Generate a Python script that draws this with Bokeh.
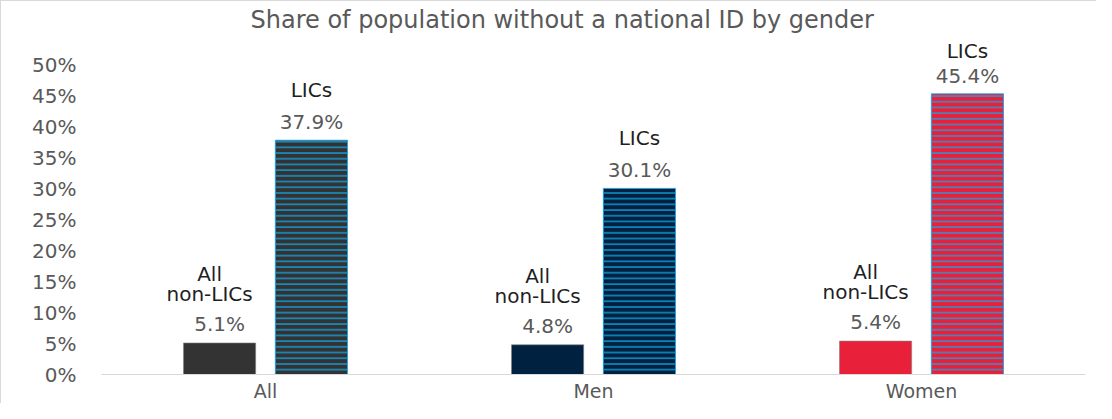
from bokeh.plotting import figure
from bokeh.models import (ColumnDataSource, FactorRange, Range1d, FixedTicker,
                          PrintfTickFormatter)
from bokeh.transform import dodge
from bokeh.core.properties import value
from bokeh.embed import file_html
from bokeh.resources import INLINE

# ---- data ----
categories = ["All", "Men", "Women"]
non_lic = [5.1, 4.8, 5.4]
lic = [37.9, 30.1, 45.4]
y_ticks = [0, 5, 10, 15, 20, 25, 30, 35, 40, 45, 50]
title_text = "Share of population without a national ID by gender"
lic_name = "LICs"
non_lic_name = "All\nnon-LICs"

# ---- styles ----
non_lic_colors = ["#333333", "#00213f", "#e8203a"]
lic_colors = ["#333333", "#00213f", "#e8203a"]
stripe_color = "#14a6e6"
lic_label_offsets = [-50, -50, -43]
FONT = "DejaVu Sans"

src = ColumnDataSource(dict(
    cat=categories,
    non_lic=non_lic,
    lic=lic,
    non_lic_color=non_lic_colors,
    lic_color=lic_colors,
    non_lic_lbl=[f"{v:.1f}%" for v in non_lic],
    lic_lbl=[f"{v:.1f}%" for v in lic],
    lic_name=[lic_name] * len(categories),
    non_lic_name=[non_lic_name] * len(categories),
    lic_off=lic_label_offsets,
))

p = figure(x_range=FactorRange(factors=categories, range_padding=0),
           y_range=Range1d(0, 55.16),
           width=1096, height=403, output_backend="svg",
           toolbar_location=None, title=title_text,
           min_border_left=100, min_border_right=12,
           min_border_bottom=29, min_border_top=32,
           border_fill_color="white")

p.title.text_font = FONT
p.title.text_font_size = "24px"
p.title.text_font_style = "normal"
p.title.text_color = "#595959"
p.title.align = "left"
p.title.offset = 149
p.title.standoff = 0

p.outline_line_color = None
p.xgrid.grid_line_color = None
p.ygrid.grid_line_color = None
p.styles = {"border-top": "1px solid #d9d9d9", "border-left": "1px solid #d9d9d9"}

p.vbar(x=dodge("cat", -0.14, range=p.x_range), top="non_lic", width=0.22,
       source=src, fill_color="non_lic_color", line_color="#7f7f7f",
       line_width=0.6)
p.vbar(x=dodge("cat", 0.14, range=p.x_range), top="lic", width=0.22,
       source=src, fill_color="lic_color", line_color=stripe_color,
       line_width=0.8, hatch_pattern="horizontal_line", hatch_scale=5.7,
       hatch_weight=1.3, hatch_color=stripe_color)

# value labels
p.text(x=dodge("cat", -0.14, range=p.x_range), y="non_lic", text="non_lic_lbl",
       source=src, text_align="center", text_baseline="middle", y_offset=-19,
       text_font=value(FONT), text_font_size="20px", text_color="#595959")
p.text(x=dodge("cat", 0.14, range=p.x_range), y="lic", text="lic_lbl",
       source=src, text_align="center", text_baseline="middle", y_offset=-18,
       text_font=value(FONT), text_font_size="20px", text_color="#595959")
# series names
p.text(x=dodge("cat", 0.14, range=p.x_range), y="lic", text="lic_name",
       source=src, text_align="center", text_baseline="middle", y_offset="lic_off",
       text_font=value(FONT), text_font_size="20px", text_color="#1f1f1f")
p.text(x=dodge("cat", -0.14, range=p.x_range), y="non_lic", text="non_lic_name",
       source=src, text_align="center", text_baseline="middle", y_offset=-59,
       x_offset=-10, text_line_height=0.85,
       text_font=value(FONT), text_font_size="20px", text_color="#1f1f1f")

# axes
xa = p.xaxis[0]
xa.axis_line_color = "#d9d9d9"
xa.axis_line_width = 1.2
xa.major_tick_line_color = None
xa.minor_tick_line_color = None
xa.major_tick_out = 0
xa.major_tick_in = 0
xa.minor_tick_out = 0
xa.major_label_text_font = FONT
xa.major_label_text_font_size = "19px"
xa.major_label_text_color = "#595959"
xa.major_label_standoff = 5

ya = p.yaxis[0]
ya.ticker = FixedTicker(ticks=y_ticks)
ya.formatter = PrintfTickFormatter(format="%d%%")
ya.axis_line_color = None
ya.major_tick_line_color = None
ya.minor_tick_line_color = None
ya.major_tick_out = 0
ya.major_tick_in = 0
ya.minor_tick_out = 0
ya.major_label_text_font = FONT
ya.major_label_text_font_size = "20px"
ya.major_label_text_color = "#595959"
ya.major_label_standoff = 25

open("out.html", "w").write(file_html(p, INLINE))
